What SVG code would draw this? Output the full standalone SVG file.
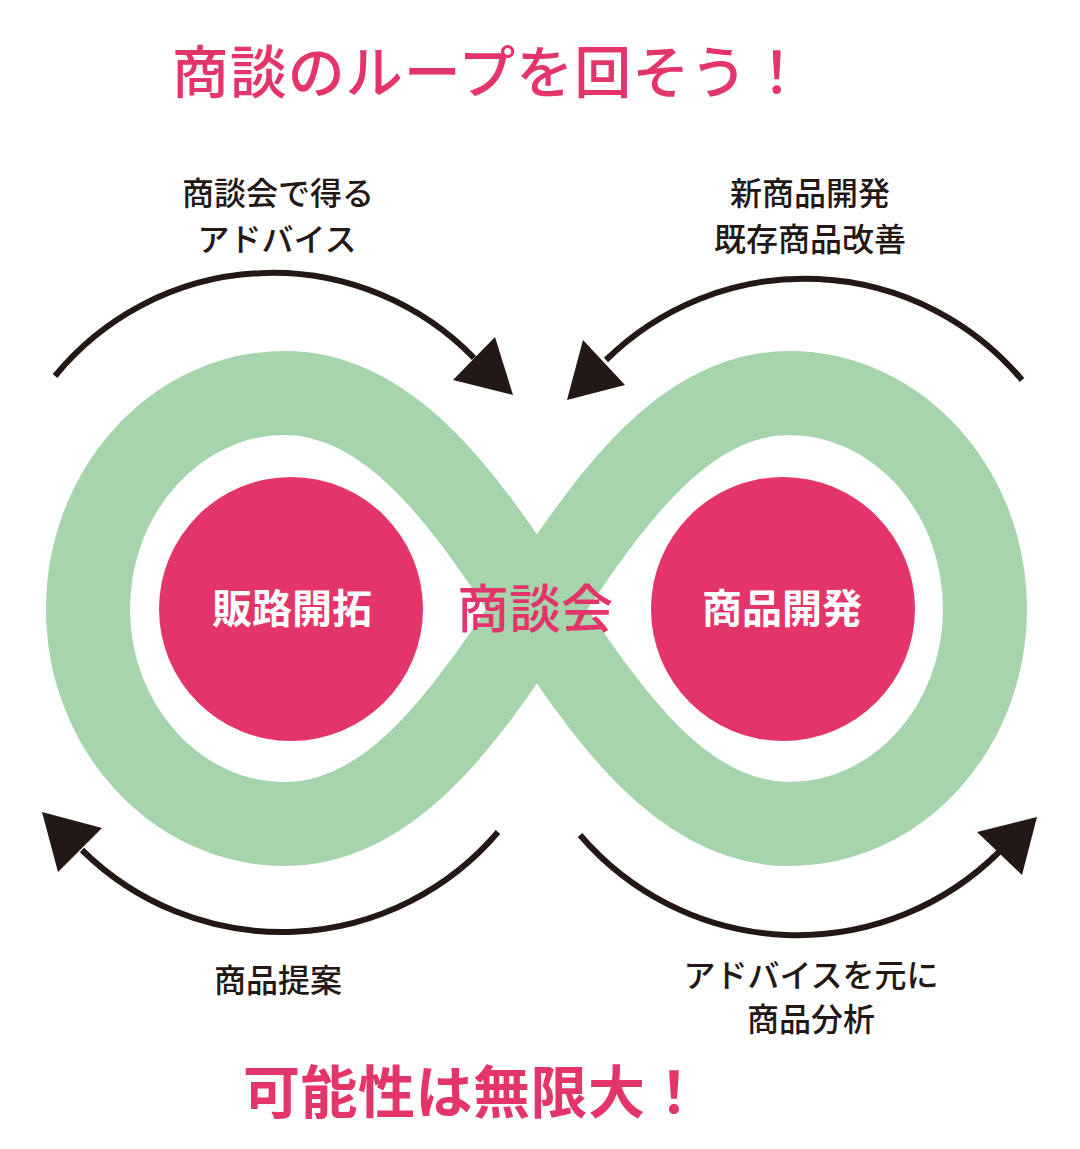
<svg xmlns="http://www.w3.org/2000/svg" width="1080" height="1149" viewBox="0 0 1080 1149">
<style>
.jp{font-family:"Noto Sans CJK JP","Noto Sans",sans-serif;text-anchor:middle}
.title{fill:#e4356a;font-size:57px;font-weight:500;letter-spacing:1px}
.lbl{fill:#231815;font-size:32px;font-weight:500}
.node{fill:#e4356a}
.nlbl{fill:#ffffff;font-size:40px;font-weight:700}
.arc{fill:none;stroke:#231815;stroke-width:6}
.head{fill:#231815}
</style>
<rect width="1080" height="1149" fill="#ffffff"/>
<g id="loop">
<path d="M 537 609 C 470 509.5 395 393 285 393 C 176 393 88 491 88 609 C 88 727 176 824 285 824 C 395 824 470 708.5 537 609 C 604 509.5 679 393 789 393 C 898 393 985 491 985 609 C 985 727 898 824 789 824 C 679 824 604 708.5 537 609 Z" fill="none" stroke="#a5d4ad" stroke-width="84"/>
</g>
<g id="node-hanro">
<circle class="node" cx="291" cy="609" r="132"/>
<text class="jp nlbl" x="292" y="623">販路開拓</text>
</g>
<g id="node-shohin">
<circle class="node" cx="783" cy="609" r="132"/>
<text class="jp nlbl" x="782" y="623">商品開発</text>
</g>
<g id="node-shodankai">
<text class="jp title" x="535" y="628" style="font-size:52px;letter-spacing:0">商談会</text>
</g>
<g id="connectors">
<path class="arc" d="M 55 376 A 281 281 0 0 1 474 358"/>
<polygon class="head" points="513,395 495,337 453,380"/>
<path class="arc" d="M 1022 380 A 283.5 283.5 0 0 0 606 360"/>
<polygon class="head" points="567,400 583,340 625,385"/>
<path class="arc" d="M 498 832 A 284 284 0 0 1 82 850"/>
<polygon class="head" points="42,812 102,828 58,872"/>
<path class="arc" d="M 580 835 A 286 286 0 0 0 999 852"/>
<polygon class="head" points="1037,817 977,832 1022,875"/>
</g>
<g id="labels">
<text class="jp title" x="489" y="93">商談のループを回そう！</text>
<text class="jp lbl" x="278" y="205">商談会で得る</text>
<text class="jp lbl" x="277" y="251">アドバイス</text>
<text class="jp lbl" x="810" y="205">新商品開発</text>
<text class="jp lbl" x="810" y="251">既存商品改善</text>
<text class="jp lbl" x="278" y="992">商品提案</text>
<text class="jp lbl" x="811" y="987">アドバイスを元に</text>
<text class="jp lbl" x="811" y="1031">商品分析</text>
<text class="jp title" x="473" y="1113" style="font-weight:700;letter-spacing:0.5px">可能性は無限大！</text>
</g>
</svg>
